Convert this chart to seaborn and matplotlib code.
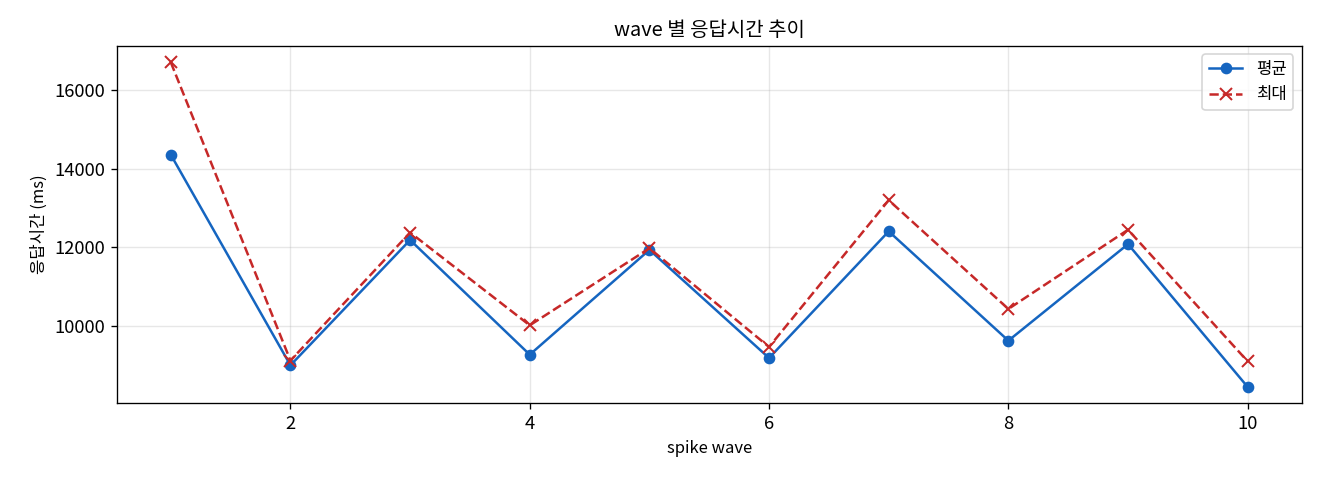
import matplotlib
matplotlib.use("Agg")
import matplotlib.pyplot as plt
import seaborn as sns
import pandas as pd

waves = [1, 2, 3, 4, 5, 6, 7, 8, 9, 10]
mean_ms = [14355, 9010, 12190, 9280, 11940, 9195, 12410, 9635, 12085, 8460]
max_ms = [16700, 9130, 12380, 10025, 11980, 9475, 13200, 10440, 12450, 9110]
labels = ["평균", "최대"]

plt.rcParams['font.family'] = ['Noto Sans CJK KR', 'DejaVu Sans']
plt.rcParams['axes.unicode_minus'] = False

df = pd.DataFrame({"wave": waves, "mean": mean_ms, "max": max_ms})

blue = "#1565C0"
red = "#C62828"

fig, ax = plt.subplots(figsize=(11, 4), dpi=120)
sns.lineplot(data=df, x="wave", y="mean", ax=ax, color=blue, marker="o",
             markersize=6, markeredgecolor=blue, markerfacecolor=blue,
             markeredgewidth=1, linewidth=1.5, label=labels[0])
sns.lineplot(data=df, x="wave", y="max", ax=ax, color=red, marker="x",
             markersize=7, markeredgecolor=red, markeredgewidth=1.2,
             linewidth=1.5, label=labels[1])
ax.lines[1].set_linestyle("--")
ax.set_title("wave 별 응답시간 추이", fontsize=12)
ax.set_xlabel("spike wave")
ax.set_ylabel("응답시간 (ms)")
ax.tick_params(labelsize=11)
ax.grid(True, alpha=0.3)
leg = ax.legend(loc="upper right")
for h in leg.legend_handles:
    pass
leg.legend_handles[1].set_linestyle("--")
fig.subplots_adjust(left=0.0886, right=0.986, top=0.904, bottom=0.160)
fig.savefig("out.png", dpi=120)
